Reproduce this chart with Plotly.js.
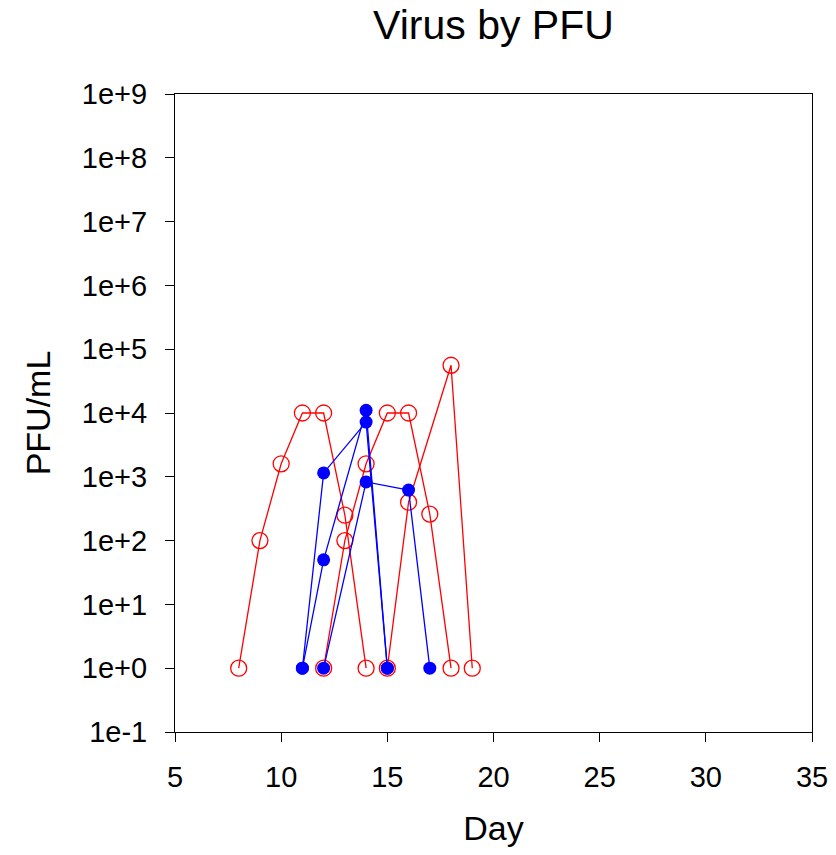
<!DOCTYPE html>
<html>
<head>
<meta charset="utf-8">
<script src="https://cdn.plot.ly/plotly-3.0.1.min.js"></script>
<style>
  html, body { margin: 0; padding: 0; background: #ffffff; }
  #chart { width: 836px; height: 855px; }
</style>
</head>
<body>
<div id="chart"></div>
<script>
// Plaque assay titres (PFU/mL) per animal, by day after infection.
// Open red circles: first group; filled blue circles: second group.
const redDaysA = [8, 9, 10, 11, 12, 13, 14];
const redPfuA  = [1, 100, 1600, 10000, 10000, 250, 1];
const redDaysB = [12, 13, 14, 15, 16, 17, 18];
const redPfuB  = [1, 100, 1600, 10000, 10000, 260, 1];
const redDaysC = [15, 16, 18, 19];
const redPfuC  = [1, 400, 56000, 1];

const blueDaysA = [11, 12, 14, 15];
const bluePfuA  = [1, 1150, 7200, 1];
const blueDaysB = [11, 12, 14, 15];
const bluePfuB  = [1, 50, 11000, 1];
const blueDaysC = [12, 14, 16, 17];
const bluePfuC  = [1, 830, 620, 1];

const yTickVals = [0.1, 1, 10, 100, 1e3, 1e4, 1e5, 1e6, 1e7, 1e8, 1e9];
const yTickText = ['1e-1', '1e+0', '1e+1', '1e+2', '1e+3', '1e+4', '1e+5', '1e+6', '1e+7', '1e+8', '1e+9'];
const xTickVals = [5, 10, 15, 20, 25, 30, 35];

const FONT = 'Liberation Sans, Arial, sans-serif';

function redTrace(x, y) {
  return {
    x: x, y: y, type: 'scatter', mode: 'lines+markers', showlegend: false,
    line: { color: '#ff0000', width: 1.3 },
    marker: { symbol: 'circle-open', size: 16, color: '#ff0000', line: { color: '#ff0000', width: 1.3 } }
  };
}
function blueTrace(x, y) {
  return {
    x: x, y: y, type: 'scatter', mode: 'lines+markers', showlegend: false,
    line: { color: '#0000ff', width: 1.3 },
    marker: { symbol: 'circle', size: 13, color: '#0000ff', line: { width: 0 } }
  };
}

const data = [
  redTrace(redDaysA, redPfuA),
  redTrace(redDaysB, redPfuB),
  redTrace(redDaysC, redPfuC),
  blueTrace(blueDaysA, bluePfuA),
  blueTrace(blueDaysB, bluePfuB),
  blueTrace(blueDaysC, bluePfuC)
];

const layout = {
  width: 836, height: 855,
  paper_bgcolor: '#ffffff', plot_bgcolor: '#ffffff',
  margin: { l: 175, r: 24, t: 94, b: 123 },
  font: { family: FONT, color: '#000000' },
  title: {
    text: 'Virus by PFU',
    font: { family: FONT, size: 41, color: '#000000' },
    x: 0.5, xanchor: 'center', xref: 'paper',
    y: 0.971, yanchor: 'middle', yref: 'container'
  },
  xaxis: {
    range: [5, 35],
    tickvals: xTickVals,
    ticks: 'outside', ticklen: 9, tickwidth: 1, tickcolor: '#000000',
    ticklabelstandoff: 10,
    showline: true, linecolor: '#000000', linewidth: 1, mirror: true,
    showgrid: false, zeroline: false,
    tickfont: { family: FONT, size: 29, color: '#000000' },
    title: { text: 'Day', font: { family: FONT, size: 34, color: '#000000' }, standoff: 24 }
  },
  yaxis: {
    type: 'log', range: [-1, 9],
    tickvals: yTickVals, ticktext: yTickText,
    ticks: 'outside', ticklen: 9, tickwidth: 1, tickcolor: '#000000',
    ticklabelstandoff: 12,
    showline: true, linecolor: '#000000', linewidth: 1, mirror: true,
    showgrid: false, zeroline: false,
    tickfont: { family: FONT, size: 29, color: '#000000' },
    title: { text: 'PFU/mL', font: { family: FONT, size: 34, color: '#000000' }, standoff: 20 }
  }
};

Plotly.newPlot('chart', data, layout, { displayModeBar: false, staticPlot: true });
</script>
</body>
</html>
